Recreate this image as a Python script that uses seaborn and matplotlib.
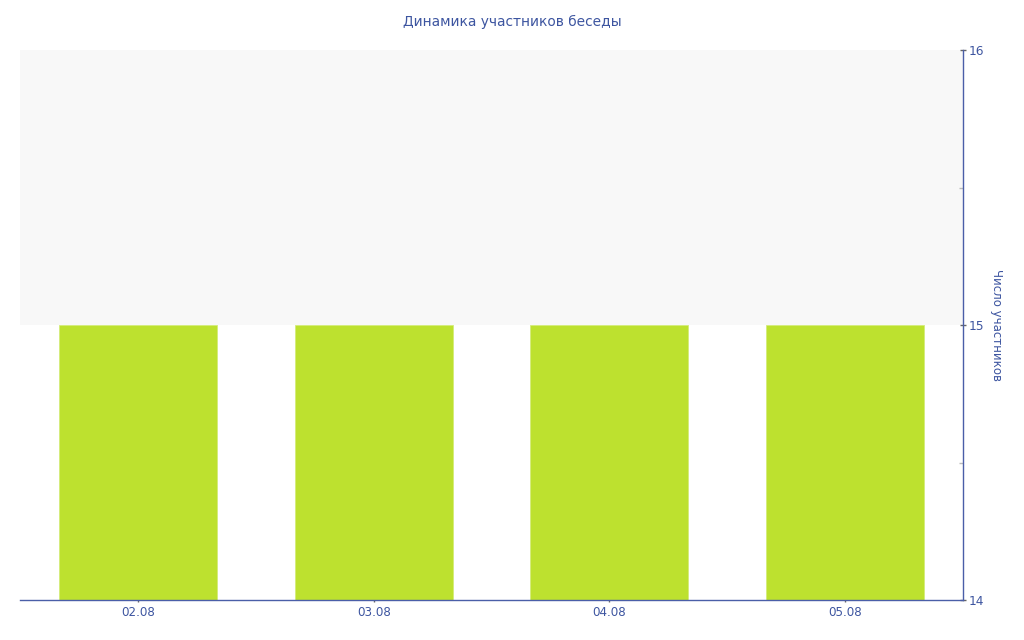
import matplotlib
matplotlib.use("Agg")
import matplotlib.pyplot as plt
from matplotlib.ticker import MultipleLocator
import seaborn as sns
import pandas as pd

dates = ["02.08", "03.08", "04.08", "05.08"]
participants = [15, 15, 15, 15]
y_ticks = [14, 15, 16]

title = "Динамика участников беседы"
y_label = "Число участников"

text_color = "#3d55a0"
axis_color = "#4a5ea8"
bar_color = "#bde12f"

sns.set_theme(style="white")
plt.rcParams["font.family"] = ["DejaVu Sans"]

df = pd.DataFrame({"date": dates, "n": participants})

fig = plt.figure(figsize=(10.24, 6.4), dpi=100)
ax = fig.add_axes([20 / 1024, 40 / 640, 943 / 1024, 550 / 640])
ax.set_facecolor("white")
ax.axhspan(15, 16, color="#f8f8f8", zorder=0, lw=0)

sns.barplot(data=df, x="date", y="n", color=bar_color, saturation=1,
            width=0.67, edgecolor="#d4ec7a", linewidth=0.6, ax=ax, zorder=2)

ax.set_ylim(14, 16)
ax.set_xlim(-0.5, len(dates) - 0.5)
ax.set_yticks(y_ticks)
ax.yaxis.set_minor_locator(MultipleLocator(0.5))
ax.yaxis.tick_right()
ax.yaxis.set_label_position("right")

for s in ["left", "top"]:
    ax.spines[s].set_visible(False)
for s in ["right", "bottom"]:
    ax.spines[s].set_visible(True)
    ax.spines[s].set_color(axis_color)
    ax.spines[s].set_linewidth(1.0)
    ax.spines[s].set_zorder(3)

ax.tick_params(axis="y", which="major", direction="inout", length=4, width=1,
               color="#666666", labelcolor=text_color, labelsize=8.8, pad=2,
               right=True, left=False)
ax.tick_params(axis="y", which="minor", direction="in", length=3, width=1,
               color="#bbbbbb", right=True, left=False)
ax.tick_params(axis="x", direction="inout", length=3, width=1, color="#666666",
               labelcolor=text_color, labelsize=8.6, pad=3, bottom=True)

ax.set_xlabel("")
ax.set_ylabel(y_label, rotation=-90, color=text_color, fontsize=8.5, va="center")
ax.yaxis.set_label_coords((997 - 20) / 943, (640 - 325 - 40) / 550)

fig.text(0.5, 1 - 22 / 640, title, ha="center", va="center",
         color=text_color, fontsize=9.9)

fig.savefig("out.png", dpi=100)
